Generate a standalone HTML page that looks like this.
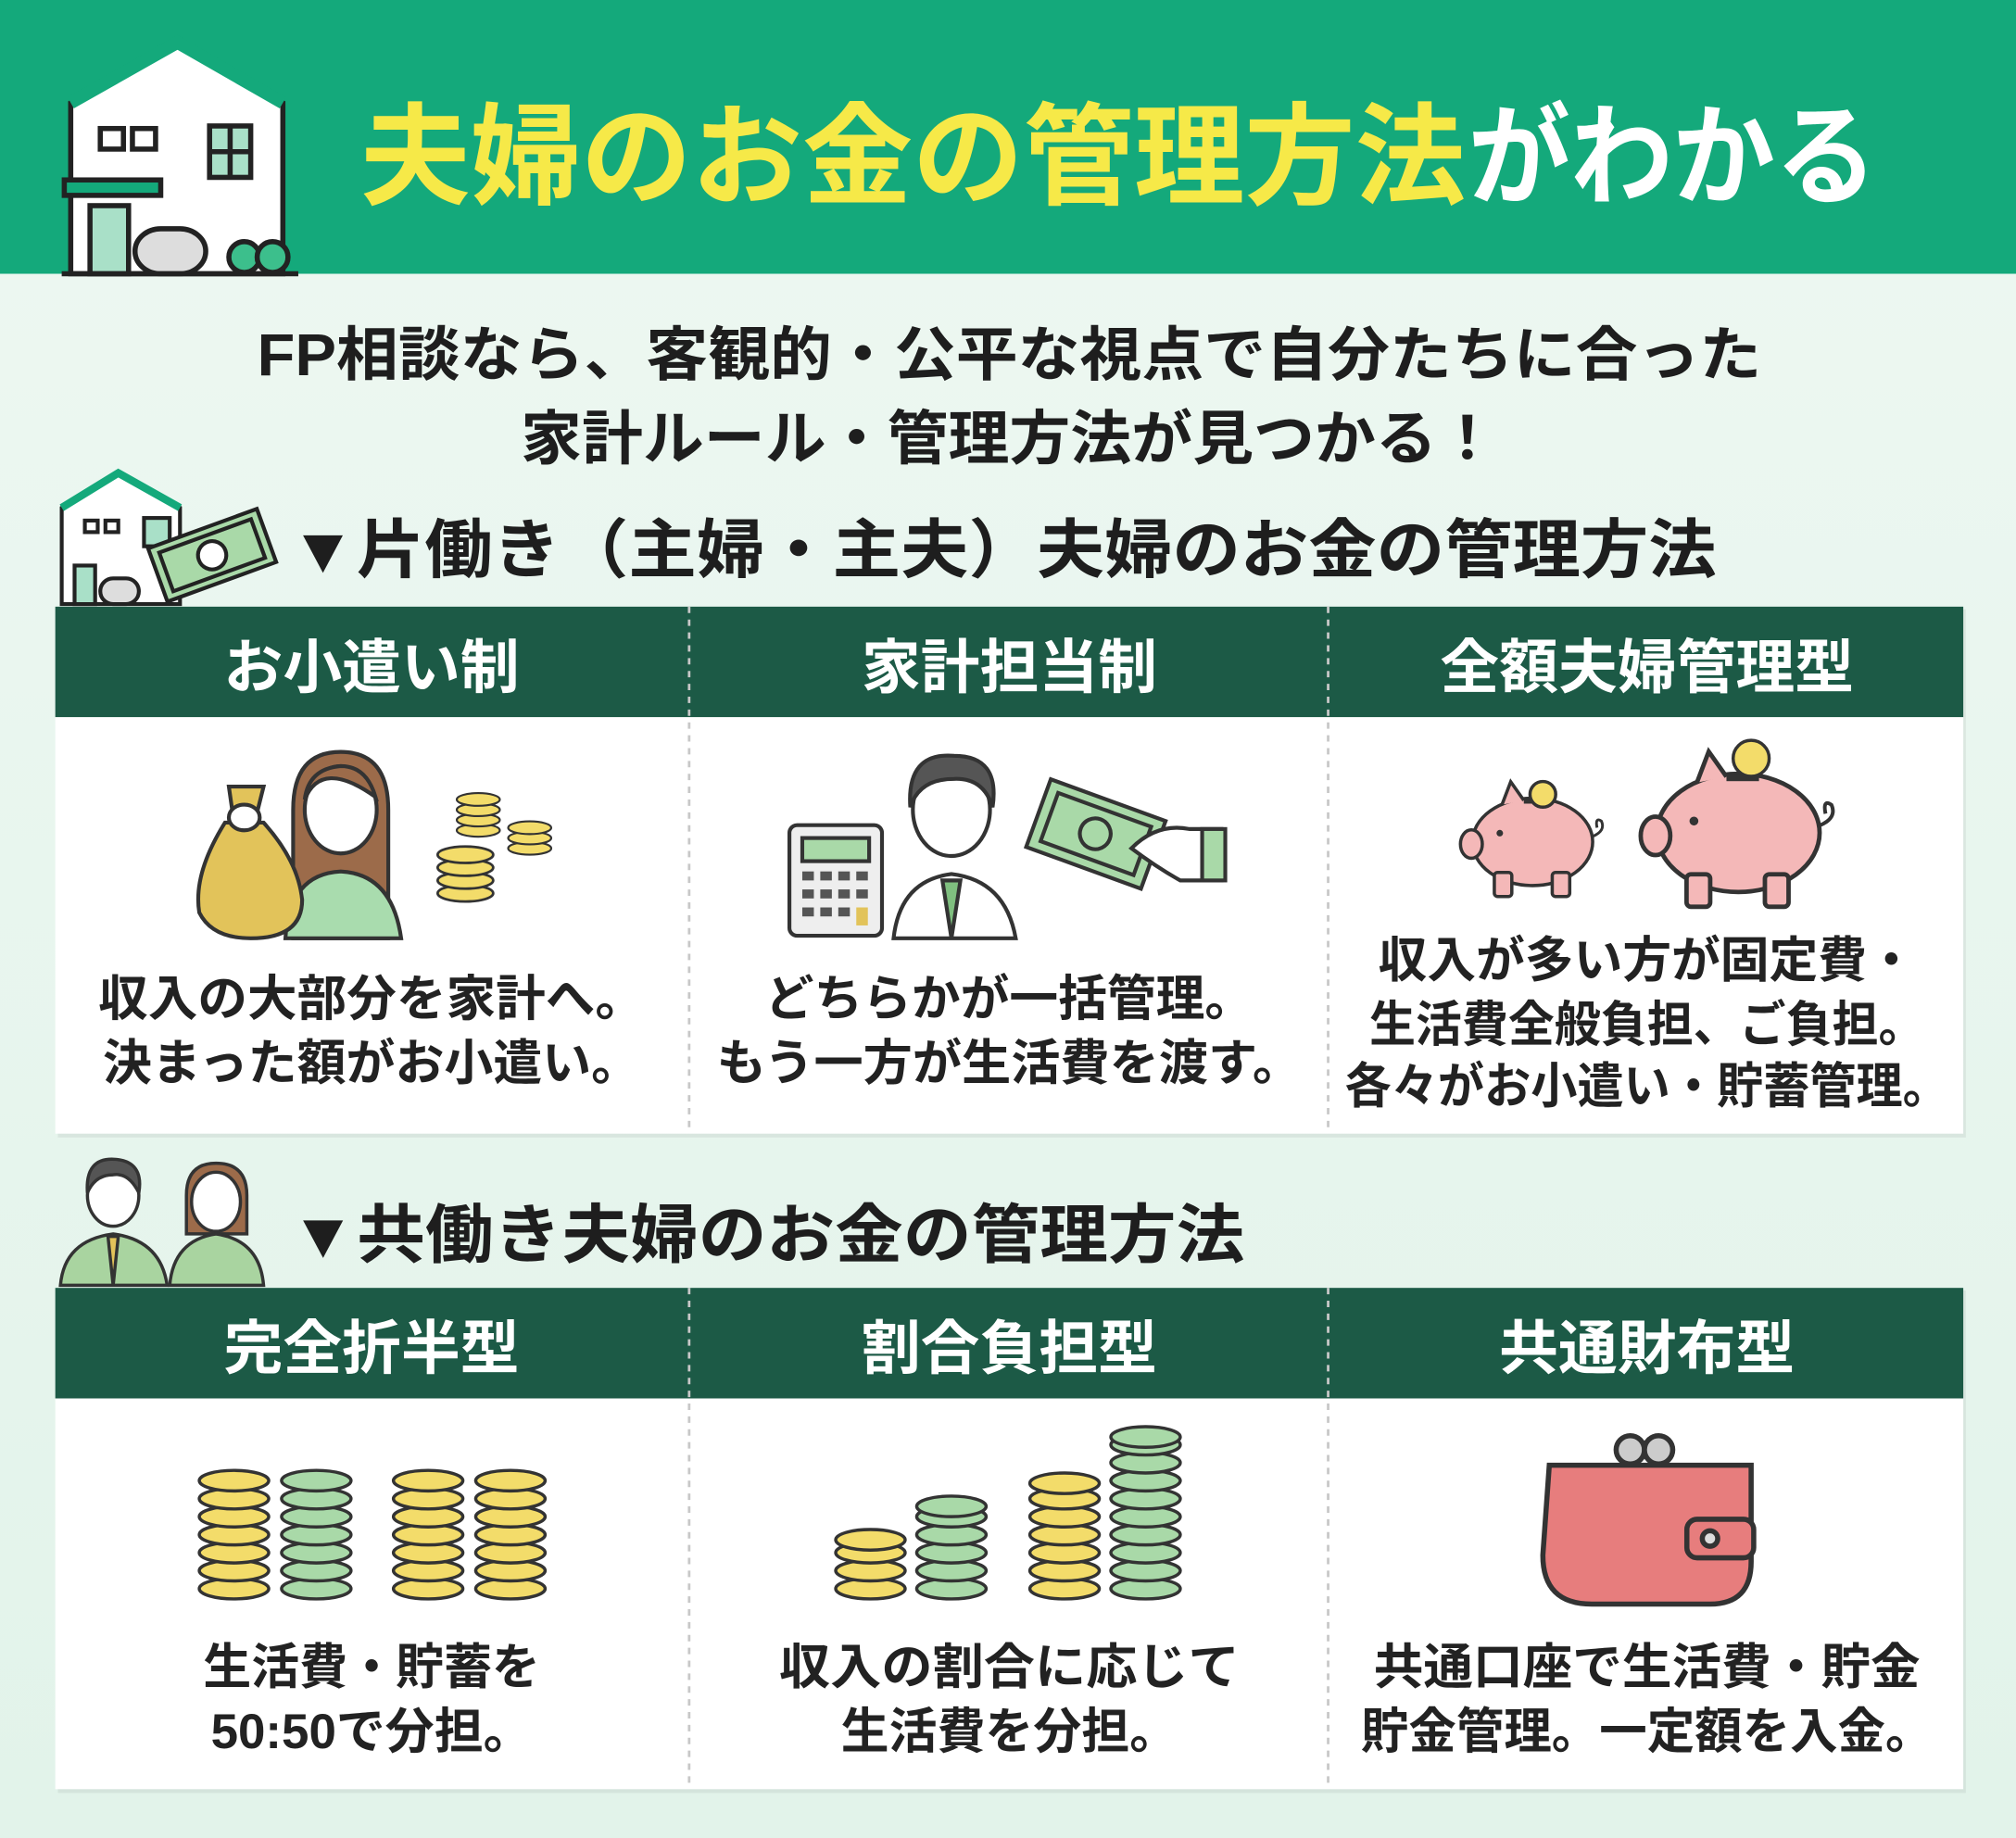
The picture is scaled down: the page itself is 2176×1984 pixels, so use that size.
<!DOCTYPE html>
<html><head><meta charset="utf-8"><style>
html,body{margin:0;padding:0;}
body{width:2176px;height:1984px;overflow:hidden;background:#e9f6ef;}
svg{display:block;}
text{font-family:"Liberation Sans","Noto Sans CJK JP",sans-serif;font-weight:700;}
</style></head><body>
<svg width="2176" height="1984" viewBox="0 0 1568 1430" preserveAspectRatio="none" xmlns="http://www.w3.org/2000/svg">
<defs>
<linearGradient id="bg" x1="0" y1="0" x2="0" y2="1"><stop offset="0" stop-color="#eef8f2"/><stop offset="1" stop-color="#e2f3ea"/></linearGradient>
<g id="cy"><ellipse cx="0" cy="0" rx="27" ry="8" fill="#f3dc6a" stroke="#333" stroke-width="2.5"/></g>
<g id="cg"><ellipse cx="0" cy="0" rx="27" ry="8" fill="#a9d9a8" stroke="#333" stroke-width="2.5"/></g>
<g id="pig">
<ellipse cx="0" cy="0" rx="55" ry="40" fill="#f4b8b8" stroke="#333" stroke-width="3"/>
<rect x="-35" y="28" width="16" height="22" rx="3" fill="#f4b8b8" stroke="#333" stroke-width="3"/>
<rect x="18" y="28" width="16" height="22" rx="3" fill="#f4b8b8" stroke="#333" stroke-width="3"/>
<ellipse cx="-56" cy="2" rx="10" ry="13" fill="#f4b8b8" stroke="#333" stroke-width="3"/>
<path d="M-28 -34 L-20 -55 L-8 -38" fill="#f4b8b8" stroke="#333" stroke-width="3"/>
<circle cx="-30" cy="-8" r="3" fill="#333"/>
<path d="M55 -5 q12 -5 8 -14 q-6 -4 -4 6" fill="none" stroke="#333" stroke-width="2.5"/>
<rect x="-8" y="-40" width="22" height="5" fill="#333"/>
</g>
</defs>
<rect x="0" y="0" width="1568" height="1430" fill="url(#bg)"/>
<rect x="0" y="0" width="1568" height="213" fill="#14a97b"/>
<!-- header house -->
<g stroke="#222" stroke-width="4" fill="#fff">
<path d="M55 80 L138 33 L220 80 L220 213 L55 213 Z" fill="#fff"/>
<path d="M55 80 L138 33 L220 80" fill="none" stroke="#14a97b" stroke-width="10"/>
<rect x="78" y="100" width="18" height="16" fill="#fff"/><rect x="103" y="100" width="18" height="16" fill="#fff"/>
<rect x="163" y="98" width="32" height="40" fill="#a9e0c8"/>
<line x1="179" y1="98" x2="179" y2="138"/><line x1="163" y1="118" x2="195" y2="118"/>
<rect x="50" y="140" width="75" height="12" fill="#14a97b"/>
<rect x="70" y="160" width="30" height="53" fill="#a9e0c8"/>
<rect x="105" y="178" width="55" height="35" rx="20" fill="#ddd"/>
<circle cx="190" cy="200" r="12" fill="#3cbf8c"/><circle cx="212" cy="200" r="12" fill="#3cbf8c"/>
<line x1="48" y1="213" x2="232" y2="213"/>
</g>
<text x="280" y="152" font-size="86" fill="#f6e948" textLength="860" lengthAdjust="spacingAndGlyphs">夫婦のお金の管理方法</text>
<text x="1142" y="152" font-size="86" fill="#ffffff" textLength="318" lengthAdjust="spacingAndGlyphs">がわかる</text>
<!-- subtitle -->
<text x="200" y="292" font-size="46" fill="#1e1e1e" textLength="1170" lengthAdjust="spacingAndGlyphs">FP相談なら、客観的・公平な視点で自分たちに合った</text>
<text x="405" y="357" font-size="46" fill="#1e1e1e" textLength="760" lengthAdjust="spacingAndGlyphs">家計ルール・管理方法が見つかる！</text>
<!-- section 1 icon -->
<g stroke="#222" stroke-width="3" fill="#fff">
<path d="M48 395 L92 368 L140 395 L140 470 L48 470 Z"/>
<path d="M48 395 L92 368 L140 395" fill="none" stroke="#14a97b" stroke-width="6"/>
<rect x="66" y="405" width="10" height="9"/><rect x="82" y="405" width="10" height="9"/>
<rect x="112" y="403" width="20" height="22" fill="#a9e0c8"/>
<rect x="58" y="440" width="16" height="30" fill="#a9e0c8"/>
<rect x="78" y="450" width="30" height="20" rx="10" fill="#ddd"/>
<g transform="rotate(-20 165 432)"><rect x="120" y="410" width="90" height="44" fill="#a9d9a8"/><rect x="127" y="416" width="76" height="32" fill="none"/><circle cx="165" cy="432" r="11"/></g>
</g>
<text x="225" y="445" font-size="50" fill="#1e1e1e" textLength="1110" lengthAdjust="spacingAndGlyphs">▼片働き（主婦・主夫）夫婦のお金の管理方法</text>
<!-- table 1 -->
<rect x="45" y="474" width="1484" height="411" fill="#000" opacity="0.06"/>
<rect x="43" y="472" width="1484" height="86" fill="#1c5a46"/>
<rect x="43" y="558" width="1484" height="324" fill="#fff"/>
<g stroke="#c8c8c8" stroke-width="2" stroke-dasharray="5 5"><line x1="536" y1="472" x2="536" y2="882"/><line x1="1033" y1="472" x2="1033" y2="882"/></g>
<g font-size="46" fill="#fff" text-anchor="middle">
<text x="289" y="535">お小遣い制</text><text x="785" y="535">家計担当制</text><text x="1281" y="535">全額夫婦管理型</text></g>
<g font-size="38" fill="#222" text-anchor="middle">
<text x="289" y="790" textLength="425" lengthAdjust="spacingAndGlyphs">収入の大部分を家計へ。</text>
<text x="289" y="840" textLength="418" lengthAdjust="spacingAndGlyphs">決まった額がお小遣い。</text>
<text x="785" y="790" textLength="380" lengthAdjust="spacingAndGlyphs">どちらかが一括管理。</text>
<text x="785" y="840" textLength="455" lengthAdjust="spacingAndGlyphs">もう一方が生活費を渡す。</text>
<text x="1281" y="760" textLength="418" lengthAdjust="spacingAndGlyphs">収入が多い方が固定費・</text>
<text x="1281" y="810" textLength="432" lengthAdjust="spacingAndGlyphs">生活費全般負担、ご負担。</text>
<text x="1281" y="858" textLength="470" lengthAdjust="spacingAndGlyphs">各々がお小遣い・貯蓄管理。</text>
</g>
<!-- icons table1 -->
<g stroke="#333" stroke-width="3">
<!-- woman -->
<path d="M228 730 L228 630 Q228 585 265 585 Q302 585 302 630 L302 730 Z" fill="#9c6b4a"/>
<path d="M222 730 Q225 680 265 678 Q305 680 312 730 Z" fill="#a9dcae"/>
<ellipse cx="265" cy="630" rx="28" ry="34" fill="#fff"/>
<path d="M237 622 Q250 590 292 620 Q285 596 265 596 Q240 598 237 622Z" fill="#9c6b4a"/>
<!-- bag -->
<path d="M175 640 Q150 680 155 710 Q165 730 195 730 Q235 730 235 700 Q232 670 205 640 Z" fill="#e2c35a"/>
<path d="M178 612 L205 612 L198 640 L182 640 Z" fill="#e2c35a"/>
<ellipse cx="190" cy="636" rx="12" ry="10" fill="#fff"/>
</g>
<g>
<use href="#cy" transform="translate(372,646) scale(0.62)"/><use href="#cy" transform="translate(372,638) scale(0.62)"/><use href="#cy" transform="translate(372,630) scale(0.62)"/><use href="#cy" transform="translate(372,622) scale(0.62)"/>
<use href="#cy" transform="translate(412,660) scale(0.62)"/><use href="#cy" transform="translate(412,652) scale(0.62)"/><use href="#cy" transform="translate(412,644) scale(0.62)"/>
<use href="#cy" transform="translate(362,695) scale(0.8)"/><use href="#cy" transform="translate(362,685) scale(0.8)"/><use href="#cy" transform="translate(362,675) scale(0.8)"/><use href="#cy" transform="translate(362,665) scale(0.8)"/>
</g>
<g stroke="#333" stroke-width="3">
<!-- calculator -->
<rect x="614" y="642" width="72" height="86" rx="6" fill="#eee"/>
<rect x="624" y="652" width="52" height="18" fill="#a9d9a8"/>
<g fill="#555" stroke="none">
<rect x="624" y="678" width="9" height="7"/><rect x="638" y="678" width="9" height="7"/><rect x="652" y="678" width="9" height="7"/><rect x="666" y="678" width="9" height="7"/>
<rect x="624" y="692" width="9" height="7"/><rect x="638" y="692" width="9" height="7"/><rect x="652" y="692" width="9" height="7"/><rect x="666" y="692" width="9" height="7"/>
<rect x="624" y="706" width="9" height="7"/><rect x="638" y="706" width="9" height="7"/><rect x="652" y="706" width="9" height="7"/><rect x="666" y="706" width="9" height="14" fill="#e2c35a"/>
</g>
<!-- man -->
<path d="M695 730 Q700 685 740 680 Q782 685 790 730 Z" fill="#fff"/>
<path d="M733 685 L740 730 L747 685 Z" fill="#7fbf7f"/>
<ellipse cx="740" cy="630" rx="30" ry="36" fill="#fff"/>
<path d="M708 628 Q705 585 742 588 Q778 588 772 628 Q765 605 742 606 Q715 606 708 628Z" fill="#555"/>
<!-- bill -->
<g transform="rotate(20 850 648)"><rect x="805" y="620" width="95" height="56" fill="#a9d9a8"/><rect x="814" y="628" width="77" height="40" fill="none"/><circle cx="852" cy="648" r="12" fill="none"/></g>
<path d="M880 660 Q900 640 925 645 L950 645 L950 685 L918 685 Q900 675 880 660Z" fill="#fff"/>
<rect x="935" y="645" width="18" height="40" fill="#a9d9a8"/>
</g>
<use href="#pig" transform="translate(1192,655) scale(0.85)"/>
<use href="#pig" transform="translate(1352,648) scale(1.15)"/>
<circle cx="1200" cy="618" r="10" fill="#f3dc6a" stroke="#333" stroke-width="2.5"/>
<circle cx="1362" cy="590" r="14" fill="#f3dc6a" stroke="#333" stroke-width="2.5"/>
<!-- section 2 icon -->
<g stroke="#333" stroke-width="2.5">
<path d="M47 1000 Q50 965 88 960 Q125 965 130 1000Z" fill="#a9d4a0"/>
<path d="M84 962 L88 1000 L92 962Z" fill="#e2c35a"/>
<ellipse cx="88" cy="930" rx="20" ry="24" fill="#fff"/>
<path d="M68 928 Q66 900 90 902 Q112 904 108 928 Q100 912 88 914 Q74 914 68 928Z" fill="#555"/>
<path d="M132 1000 Q135 965 168 960 Q202 965 205 1000Z" fill="#a9d4a0"/>
<path d="M145 960 L145 930 Q145 905 168 905 Q192 905 192 930 L192 960Z" fill="#9c6b4a"/>
<ellipse cx="168" cy="935" rx="19" ry="23" fill="#fff"/>
</g>
<text x="225" y="978" font-size="50" fill="#1e1e1e" textLength="743" lengthAdjust="spacingAndGlyphs">▼共働き夫婦のお金の管理方法</text>
<!-- table 2 -->
<rect x="45" y="1004" width="1484" height="391" fill="#000" opacity="0.06"/>
<rect x="43" y="1002" width="1484" height="86" fill="#1c5a46"/>
<rect x="43" y="1088" width="1484" height="304" fill="#fff"/>
<g stroke="#c8c8c8" stroke-width="2" stroke-dasharray="5 5"><line x1="536" y1="1002" x2="536" y2="1392"/><line x1="1033" y1="1002" x2="1033" y2="1392"/></g>
<g font-size="46" fill="#fff" text-anchor="middle">
<text x="289" y="1065">完全折半型</text><text x="785" y="1065">割合負担型</text><text x="1281" y="1065">共通財布型</text></g>
<g font-size="38" fill="#222" text-anchor="middle">
<text x="289" y="1310" textLength="262" lengthAdjust="spacingAndGlyphs">生活費・貯蓄を</text>
<text x="289" y="1360" textLength="250" lengthAdjust="spacingAndGlyphs">50:50で分担。</text>
<text x="785" y="1310" textLength="358" lengthAdjust="spacingAndGlyphs">収入の割合に応じて</text>
<text x="785" y="1360" textLength="262" lengthAdjust="spacingAndGlyphs">生活費を分担。</text>
<text x="1281" y="1310" textLength="425" lengthAdjust="spacingAndGlyphs">共通口座で生活費・貯金</text>
<text x="1281" y="1360" textLength="445" lengthAdjust="spacingAndGlyphs">貯金管理。一定額を入金。</text>
</g>
<!-- coin stacks table 2 -->
<g id="st">
<use href="#cy" x="182" y="1236"/><use href="#cy" x="182" y="1222"/><use href="#cy" x="182" y="1208"/><use href="#cy" x="182" y="1194"/><use href="#cy" x="182" y="1180"/><use href="#cy" x="182" y="1166"/><use href="#cy" x="182" y="1152"/>
<use href="#cg" x="246" y="1236"/><use href="#cg" x="246" y="1222"/><use href="#cg" x="246" y="1208"/><use href="#cg" x="246" y="1194"/><use href="#cg" x="246" y="1180"/><use href="#cg" x="246" y="1166"/><use href="#cg" x="246" y="1152"/>
<use href="#cy" x="333" y="1236"/><use href="#cy" x="333" y="1222"/><use href="#cy" x="333" y="1208"/><use href="#cy" x="333" y="1194"/><use href="#cy" x="333" y="1180"/><use href="#cy" x="333" y="1166"/><use href="#cy" x="333" y="1152"/>
<use href="#cy" x="397" y="1236"/><use href="#cy" x="397" y="1222"/><use href="#cy" x="397" y="1208"/><use href="#cy" x="397" y="1194"/><use href="#cy" x="397" y="1180"/><use href="#cy" x="397" y="1166"/><use href="#cy" x="397" y="1152"/>
</g>
<g>
<use href="#cy" x="677" y="1236"/><use href="#cy" x="677" y="1222"/><use href="#cy" x="677" y="1208"/><use href="#cy" x="677" y="1198"/>
<use href="#cg" x="740" y="1236"/><use href="#cg" x="740" y="1222"/><use href="#cg" x="740" y="1208"/><use href="#cg" x="740" y="1194"/><use href="#cg" x="740" y="1180"/><use href="#cg" x="740" y="1172"/>
<use href="#cy" x="828" y="1236"/><use href="#cy" x="828" y="1222"/><use href="#cy" x="828" y="1208"/><use href="#cy" x="828" y="1194"/><use href="#cy" x="828" y="1180"/><use href="#cy" x="828" y="1166"/><use href="#cy" x="828" y="1154"/>
<use href="#cg" x="891" y="1236"/><use href="#cg" x="891" y="1222"/><use href="#cg" x="891" y="1208"/><use href="#cg" x="891" y="1194"/><use href="#cg" x="891" y="1180"/><use href="#cg" x="891" y="1166"/><use href="#cg" x="891" y="1152"/><use href="#cg" x="891" y="1138"/><use href="#cg" x="891" y="1124"/><use href="#cg" x="891" y="1118"/>
</g>
<!-- wallet -->
<g stroke="#333" stroke-width="4">
<circle cx="1268" cy="1128" r="11" fill="#ccc"/><circle cx="1290" cy="1128" r="11" fill="#ccc"/>
<path d="M1205 1140 L1362 1140 L1362 1215 Q1362 1248 1330 1248 L1238 1248 Q1200 1248 1200 1210 Z" fill="#e77d7d"/>
<rect x="1312" y="1182" width="52" height="30" rx="8" fill="#e77d7d"/>
<circle cx="1330" cy="1197" r="6" fill="#ddd"/>
</g>
</svg>
</body></html>
